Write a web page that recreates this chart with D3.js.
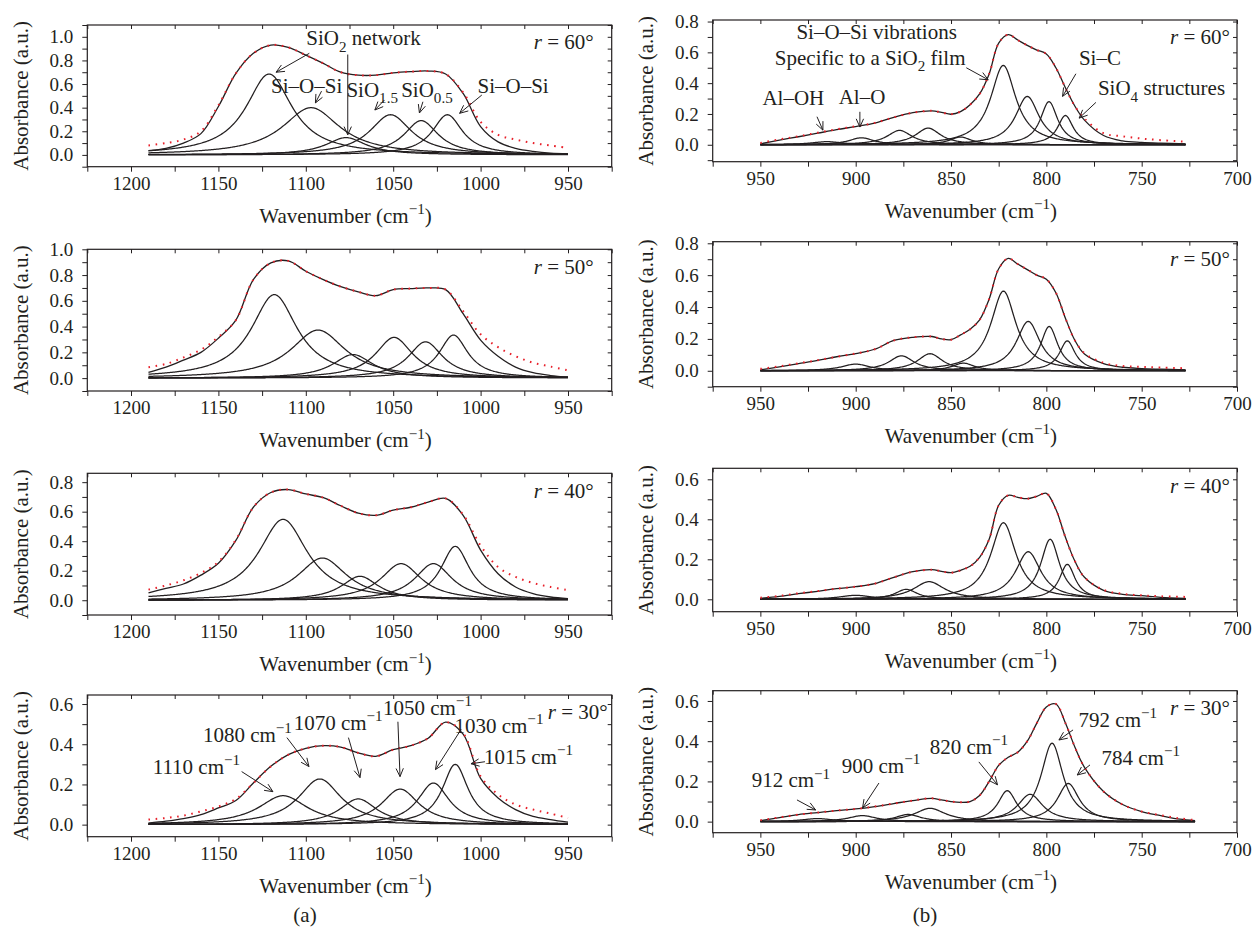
<!DOCTYPE html>
<html>
<head>
<meta charset="utf-8">
<script src="https://cdn.jsdelivr.net/npm/d3@7"></script>
<style>
  body { margin: 0; background: #fff; }
  text { font-family: "Liberation Serif", "Times New Roman", serif; fill: #231f20; }
</style>
</head>
<body>
<svg id="chart" width="1260" height="938"></svg>
<script>
// ---- data ----
// x grids (cm^-1) for the measured / envelope curves
var gridA = [1190,1180,1170,1160,1150,1140,1130,1120,1110,1100,1090,1080,1070,1060,1050,1040,1030,1020,1010,1000,990,980,970,960,950];
var gridB = [950,940,930,920,910,900,890,880,870,860,855,850,845,840,835,830,825,820,815,810,805,800,795,790,785,780,770,760,750,740,727];
var gridB30 = [950,940,930,920,910,900,890,880,870,860,855,850,845,840,835,830,825,820,815,810,805,800,795,790,785,780,770,760,750,740,730,722];

// fitted envelope (black) and measured spectrum (red dots)
var envA60  = [0.037,0.056,0.10,0.18,0.41,0.69,0.86,0.93,0.91,0.845,0.775,0.70,0.675,0.675,0.695,0.705,0.71,0.685,0.52,0.24,0.11,0.056,0.03,0.015,0.01];
var measA60 = [0.08,0.10,0.13,0.20,0.42,0.69,0.86,0.93,0.91,0.845,0.775,0.70,0.675,0.675,0.695,0.705,0.71,0.685,0.53,0.28,0.17,0.13,0.10,0.08,0.06];
var envA50  = [0.045,0.085,0.14,0.20,0.31,0.45,0.765,0.895,0.91,0.83,0.765,0.71,0.67,0.64,0.687,0.695,0.70,0.687,0.50,0.295,0.17,0.086,0.042,0.02,0.008];
var measA50 = [0.085,0.11,0.16,0.22,0.32,0.45,0.765,0.895,0.91,0.83,0.765,0.71,0.67,0.64,0.687,0.695,0.70,0.687,0.52,0.34,0.24,0.17,0.12,0.09,0.06];
var envA40  = [0.05,0.08,0.11,0.17,0.25,0.405,0.63,0.73,0.75,0.72,0.695,0.64,0.59,0.575,0.61,0.63,0.665,0.69,0.575,0.34,0.18,0.09,0.045,0.022,0.011];
var measA40 = [0.072,0.10,0.135,0.185,0.26,0.41,0.63,0.73,0.75,0.72,0.695,0.64,0.59,0.575,0.61,0.63,0.665,0.69,0.58,0.37,0.225,0.158,0.117,0.09,0.068];
var envA30  = [0.008,0.017,0.03,0.05,0.083,0.12,0.207,0.29,0.348,0.38,0.393,0.386,0.357,0.34,0.373,0.393,0.43,0.51,0.45,0.23,0.133,0.075,0.041,0.025,0.012];
var measA30 = [0.025,0.033,0.045,0.066,0.09,0.128,0.207,0.29,0.348,0.38,0.393,0.386,0.357,0.34,0.373,0.393,0.43,0.51,0.455,0.24,0.15,0.10,0.075,0.055,0.033];

var envB60  = [0.006,0.03,0.052,0.075,0.098,0.118,0.14,0.178,0.208,0.22,0.21,0.198,0.215,0.26,0.33,0.46,0.66,0.715,0.68,0.645,0.615,0.59,0.50,0.37,0.25,0.16,0.06,0.025,0.015,0.01,0.006];
var measB60 = [0.012,0.035,0.055,0.078,0.10,0.12,0.142,0.178,0.208,0.22,0.21,0.198,0.215,0.26,0.33,0.46,0.66,0.715,0.68,0.645,0.615,0.59,0.50,0.37,0.25,0.17,0.075,0.055,0.04,0.03,0.02];
var envB50  = [0.006,0.025,0.045,0.065,0.088,0.108,0.135,0.19,0.21,0.215,0.20,0.195,0.225,0.26,0.32,0.45,0.64,0.705,0.67,0.635,0.60,0.575,0.49,0.33,0.19,0.105,0.045,0.022,0.014,0.01,0.006];
var measB50 = [0.012,0.028,0.047,0.066,0.088,0.108,0.135,0.19,0.21,0.215,0.20,0.195,0.225,0.26,0.32,0.45,0.64,0.705,0.67,0.635,0.60,0.575,0.49,0.33,0.19,0.11,0.05,0.03,0.024,0.02,0.016];
var envB40  = [0.005,0.015,0.028,0.04,0.053,0.063,0.078,0.11,0.138,0.148,0.14,0.133,0.145,0.165,0.21,0.30,0.47,0.52,0.51,0.503,0.515,0.53,0.45,0.31,0.19,0.11,0.045,0.025,0.018,0.01,0.005];
var measB40 = [0.008,0.017,0.03,0.041,0.053,0.063,0.078,0.11,0.138,0.148,0.14,0.133,0.145,0.165,0.21,0.30,0.47,0.52,0.51,0.503,0.515,0.53,0.45,0.31,0.19,0.11,0.047,0.027,0.02,0.015,0.012];
var envB30  = [0.005,0.02,0.035,0.045,0.055,0.063,0.075,0.09,0.105,0.116,0.108,0.10,0.096,0.10,0.13,0.20,0.28,0.32,0.345,0.40,0.49,0.57,0.585,0.49,0.37,0.27,0.15,0.085,0.05,0.03,0.012,0.005];
var measB30 = [0.007,0.021,0.035,0.045,0.055,0.063,0.075,0.09,0.105,0.116,0.108,0.10,0.096,0.10,0.13,0.20,0.28,0.32,0.345,0.40,0.49,0.57,0.585,0.49,0.37,0.27,0.15,0.085,0.05,0.032,0.016,0.008];

// fitted bands: [centre cm^-1, height, half width]
var compsA60 = [[1121,0.685,16],[1097,0.40,20],[1077,0.146,14],[1051.5,0.34,14.5],[1034,0.29,12],[1019,0.34,10.5]];
var compsA50 = [[1118,0.648,16],[1093,0.373,19],[1073,0.183,14],[1049.5,0.316,13],[1031.5,0.282,12],[1015.5,0.334,10]];
var compsA40 = [[1113,0.548,17],[1090.5,0.286,17],[1069,0.162,13],[1045.5,0.248,14],[1027,0.248,13],[1014.5,0.365,10]];
var compsA30 = [[1113,0.144,17],[1092,0.227,15],[1070,0.128,13],[1046,0.177,13],[1027,0.207,11],[1014.5,0.30,9]];
var compsB60 = [[915,0.02,10],[897,0.045,8],[877,0.093,8],[862,0.108,8],[845,0.05,7],[822.6,0.515,8],[810,0.314,7.5],[798.6,0.28,5.5],[790,0.19,5]];
var compsB50 = [[900,0.042,9],[876,0.094,8],[861,0.107,8],[843.5,0.048,7],[822.5,0.50,8],[809.5,0.31,7.5],[798.5,0.278,5.5],[789,0.188,5]];
var compsB40 = [[900,0.02,10],[873.5,0.05,7],[861.5,0.088,10],[822.5,0.383,8],[809.5,0.238,8],[798,0.30,6],[789,0.175,5]];
var compsB30 = [[920,0.015,10],[896.5,0.03,9],[872.5,0.036,8],[861,0.066,10],[820.5,0.154,6],[808.5,0.136,8],[797,0.39,7],[788.5,0.19,7]];

// axis tick labels
var xLabelsA = [1200,1150,1100,1050,1000,950];
var xLabelsB = [950,900,850,800,750,700];
var yLabels1 = [0,0.2,0.4,0.6,0.8,1.0];
var yLabels08 = [0,0.2,0.4,0.6,0.8];
var yLabels06 = [0,0.2,0.4,0.6];

// annotations: text parts, centre (cm^-1, absorbance), arrows [w1,v1,w2,v2]
var notesA60 = [
  {parts:[["SiO"],["2","sub"],[" network"]], w:1067, v:0.99, arrows:[[1098,0.86,1117,0.70],[1076,0.85,1076,0.17]]},
  {parts:[["Si–O–Si"]], w:1099.5, v:0.59, arrows:[[1091,0.54,1094.5,0.44]]},
  {parts:[["SiO"],["1.5","sub"]], w:1062, v:0.555, arrows:[[1055,0.465,1060.5,0.38]]},
  {parts:[["SiO"],["0.5","sub"]], w:1030.7, v:0.555, arrows:[[1033,0.45,1035,0.355]]},
  {parts:[["Si–O–Si"]], w:981.4, v:0.59, arrows:[[999.3,0.507,1012,0.352]]}
];
var notesB60 = [
  {parts:[["Si–O–Si vibrations"]], w:889, v:0.734, arrows:[]},
  {parts:[["Specific to a SiO"],["2","sub"],[" film"]], w:892.4, v:0.565, arrows:[[842,0.50,830.5,0.422]]},
  {parts:[["Al–OH"]], w:932.7, v:0.305, arrows:[[920.3,0.182,917.2,0.095]]},
  {parts:[["Al–O"]], w:896.7, v:0.312, arrows:[[897.8,0.214,897.8,0.115]]},
  {parts:[["Si–C"]], w:771.9, v:0.565, arrows:[[784.5,0.461,791.5,0.314]]},
  {parts:[["SiO"],["4","sub"],[" structures"]], w:739.6, v:0.368, arrows:[[774,0.275,782.8,0.173]]}
];
var notesA30 = [
  {parts:[["1110 cm"],["−1","sup"]], w:1162.6, v:0.289, arrows:[[1136.7,0.264,1118.8,0.164]]},
  {parts:[["1080 cm"],["−1","sup"]], w:1133.4, v:0.448, arrows:[[1110.8,0.433,1098.2,0.289]]},
  {parts:[["1070 cm"],["−1","sup"]], w:1081.5, v:0.507, arrows:[[1075.6,0.433,1069,0.234]]},
  {parts:[["1050 cm"],["−1","sup"]], w:1030.4, v:0.582, arrows:[[1047.3,0.512,1046.1,0.239]]},
  {parts:[["1030 cm"],["−1","sup"]], w:989.5, v:0.493, arrows:[[1011.2,0.473,1025.8,0.274]]},
  {parts:[["1015 cm"],["−1","sup"]], w:972.6, v:0.338, arrows:[[997.5,0.313,1005.5,0.303]]}
];
var notesB30 = [
  {parts:[["912 cm"],["−1","sup"]], w:934, v:0.207, arrows:[[930.8,0.108,921,0.058]]},
  {parts:[["900 cm"],["−1","sup"]], w:886.7, v:0.277, arrows:[[887.8,0.192,896.4,0.068]]},
  {parts:[["820 cm"],["−1","sup"]], w:840.6, v:0.372, arrows:[[835.4,0.297,825.6,0.183]]},
  {parts:[["792 cm"],["−1","sup"]], w:762.5, v:0.506, arrows:[[786,0.456,793.4,0.406]]},
  {parts:[["784 cm"],["−1","sup"]], w:750.5, v:0.317, arrows:[[777.1,0.282,783.8,0.232]]}
];

// ---- layout ----
var ink = "#231f20";
var fs = 21;
var colA = {dom:[1225,925], range:[87.3,611.7], labels:xLabelsA};
var colB = {dom:[975,700], range:[712.7,1237], labels:xLabelsB};

var panels = [
  {col:colA, top:25,    bottom:166.7, yDom:[-0.1,1.1],    yLab:yLabels1,  angle:"60", inset:18, grid:gridA, env:envA60, meas:measA60, comps:compsA60, notes:notesA60},
  {col:colA, top:249.3, bottom:391,   yDom:[-0.1,1.0],    yLab:yLabels1,  angle:"50", inset:18, grid:gridA, env:envA50, meas:measA50, comps:compsA50, notes:[]},
  {col:colA, top:473.3, bottom:615,   yDom:[-0.1,0.86],   yLab:yLabels08, angle:"40", inset:18, grid:gridA, env:envA40, meas:measA40, comps:compsA40, notes:[]},
  {col:colA, top:695,   bottom:836.7, yDom:[-0.06,0.645], yLab:yLabels06, angle:"30", inset:4,  grid:gridA, env:envA30, meas:measA30, comps:compsA30, notes:notesA30},
  {col:colB, top:20,    bottom:161.7, yDom:[-0.11,0.81],  yLab:yLabels08, angle:"60", inset:7,  grid:gridB, env:envB60, meas:measB60, comps:compsB60, notes:notesB60},
  {col:colB, top:241.7, bottom:386.7, yDom:[-0.1,0.81],   yLab:yLabels08, angle:"50", inset:7,  grid:gridB, env:envB50, meas:measB50, comps:compsB50, notes:[]},
  {col:colB, top:468.3, bottom:611.7, yDom:[-0.062,0.655],yLab:yLabels06, angle:"40", inset:7,  grid:gridB, env:envB40, meas:measB40, comps:compsB40, notes:[]},
  {col:colB, top:690.7, bottom:832.7, yDom:[-0.055,0.651],yLab:yLabels06, angle:"30", inset:7,  grid:gridB30, env:envB30, meas:measB30, comps:compsB30, notes:notesB30}
];

var svg = d3.select("#chart");

function lorentz(w, c) {
  var t = (w - c[0]) / c[2];
  return c[1] / (1 + t * t);
}

function rich(text, parts, size) {
  var shift = 0;
  parts.forEach(function(pt) {
    var kind = pt[1] || "";
    var target = kind === "sub" ? size * 0.3 : kind === "sup" ? -size * 0.42 : 0;
    var t = text.append("tspan").text(pt[0]);
    if (target - shift !== 0) t.attr("dy", target - shift);
    if (kind === "sub" || kind === "sup") t.attr("font-size", size * 0.72);
    if (kind === "it") t.attr("font-style", "italic");
    shift = target;
  });
}

function arrow(g, x1, y1, x2, y2) {
  g.append("line")
    .attr("x1", x1).attr("y1", y1).attr("x2", x2).attr("y2", y2)
    .attr("stroke", ink).attr("stroke-width", 1);
  var a = Math.atan2(y2 - y1, x2 - x1), L = 9, s = 0.42;
  var p1 = [x2 - L * Math.cos(a - s), y2 - L * Math.sin(a - s)];
  var p2 = [x2 - L * Math.cos(a + s), y2 - L * Math.sin(a + s)];
  g.append("path")
    .attr("d", "M" + p1 + "L" + x2 + "," + y2 + "L" + p2)
    .attr("fill", "none").attr("stroke", ink).attr("stroke-width", 1);
}

panels.forEach(function(p) {
  var col = p.col;
  var x = d3.scaleLinear().domain(col.dom).range(col.range);
  var y = d3.scaleLinear().domain(p.yDom).range([p.bottom, p.top]);
  var x0 = col.range[0], x1 = col.range[1];
  var g = svg.append("g");

  var line = d3.line().x(function(d) { return x(d[0]); }).y(function(d) { return y(d[1]); });
  var smooth = d3.line().curve(d3.curveCatmullRom.alpha(0.5))
    .x(function(d) { return x(d[0]); }).y(function(d) { return y(d[1]); });

  // fitted bands
  var hi = d3.max(p.grid), lo = d3.min(p.grid);
  var ws = d3.range(hi, lo - 0.01, -0.5);
  p.comps.forEach(function(c) {
    g.append("path")
      .attr("d", line(ws.map(function(w) { return [w, lorentz(w, c)]; })))
      .attr("fill", "none").attr("stroke", ink).attr("stroke-width", 1.25);
  });

  // envelope
  g.append("path")
    .attr("d", smooth(p.grid.map(function(w, i) { return [w, p.env[i]]; })))
    .attr("fill", "none").attr("stroke", ink).attr("stroke-width", 1.3);

  // measured spectrum
  g.append("path")
    .attr("d", smooth(p.grid.map(function(w, i) { return [w, p.meas[i]]; })))
    .attr("fill", "none").attr("stroke", "#e8202a").attr("stroke-width", 2)
    .attr("stroke-dasharray", "1.6,5.6");

  // ticks
  var xTicks = d3.range(col.dom[1], col.dom[0] + 1, 25);
  var yTicks = d3.range(Math.ceil(p.yDom[0] * 10 - 1e-6), Math.floor(p.yDom[1] * 10 + 1e-6) + 1)
    .map(function(k) { return k / 10; });
  var isLab = function(d) { return p.yLab.some(function(v) { return Math.abs(v - d) < 1e-6; }); };

  var axB = g.append("g").attr("transform", "translate(0," + p.bottom + ")")
    .call(d3.axisBottom(x).tickValues(xTicks).tickSize(5).tickPadding(5)
      .tickFormat(function(d) { return col.labels.indexOf(d) >= 0 ? d : ""; }));
  var axT = g.append("g").attr("transform", "translate(0," + p.top + ")")
    .call(d3.axisTop(x).tickValues(xTicks).tickSize(-4).tickFormat(""));
  var axL = g.append("g").attr("transform", "translate(" + x0 + ",0)")
    .call(d3.axisLeft(y).tickValues(yTicks).tickSize(5).tickPadding(9)
      .tickFormat(function(d) { return isLab(d) ? d3.format(".1f")(d) : ""; }));
  var axR = g.append("g").attr("transform", "translate(" + x1 + ",0)")
    .call(d3.axisRight(y).tickValues(yTicks).tickSize(-4).tickFormat(""));
  [axB, axT, axL, axR].forEach(function(a) {
    a.select(".domain").remove();
    a.attr("font-family", null).attr("font-size", 19);
    a.selectAll("line").attr("stroke", ink);
    a.selectAll("text").attr("fill", ink);
  });

  // frame
  g.append("rect")
    .attr("x", x0).attr("y", p.top).attr("width", x1 - x0).attr("height", p.bottom - p.top)
    .attr("fill", "none").attr("stroke", ink).attr("stroke-width", 1.2);

  // axis titles
  var tx = g.append("text").attr("x", (x0 + x1) / 2 - 4).attr("y", p.bottom + 49)
    .attr("dy", "0.35em").attr("text-anchor", "middle").attr("font-size", fs);
  rich(tx, [["Wavenumber (cm"], ["−1", "sup"], [")"]], fs);
  g.append("text")
    .attr("transform", "translate(" + (x0 - 67) + "," + ((p.top + p.bottom) / 2) + ") rotate(-90)")
    .attr("dy", "0.35em").attr("text-anchor", "middle").attr("font-size", fs)
    .text("Absorbance (a.u.)");

  // angle label
  var tr = g.append("text").attr("x", x1 - p.inset).attr("y", p.top + 17)
    .attr("dy", "0.35em").attr("text-anchor", "end").attr("font-size", fs);
  rich(tr, [["r", "it"], [" = " + p.angle + "°"]], fs);

  // annotations
  p.notes.forEach(function(n) {
    var t = g.append("text").attr("x", x(n.w)).attr("y", y(n.v))
      .attr("dy", "0.35em").attr("text-anchor", "middle").attr("font-size", fs);
    rich(t, n.parts, fs);
    n.arrows.forEach(function(a) { arrow(g, x(a[0]), y(a[1]), x(a[2]), y(a[3])); });
  });
});

svg.append("text").attr("x", 305).attr("y", 915).attr("text-anchor", "middle")
  .attr("dy", "0.35em").attr("font-size", fs).text("(a)");
svg.append("text").attr("x", 925).attr("y", 915).attr("text-anchor", "middle")
  .attr("dy", "0.35em").attr("font-size", fs).text("(b)");
</script>
</body>
</html>
